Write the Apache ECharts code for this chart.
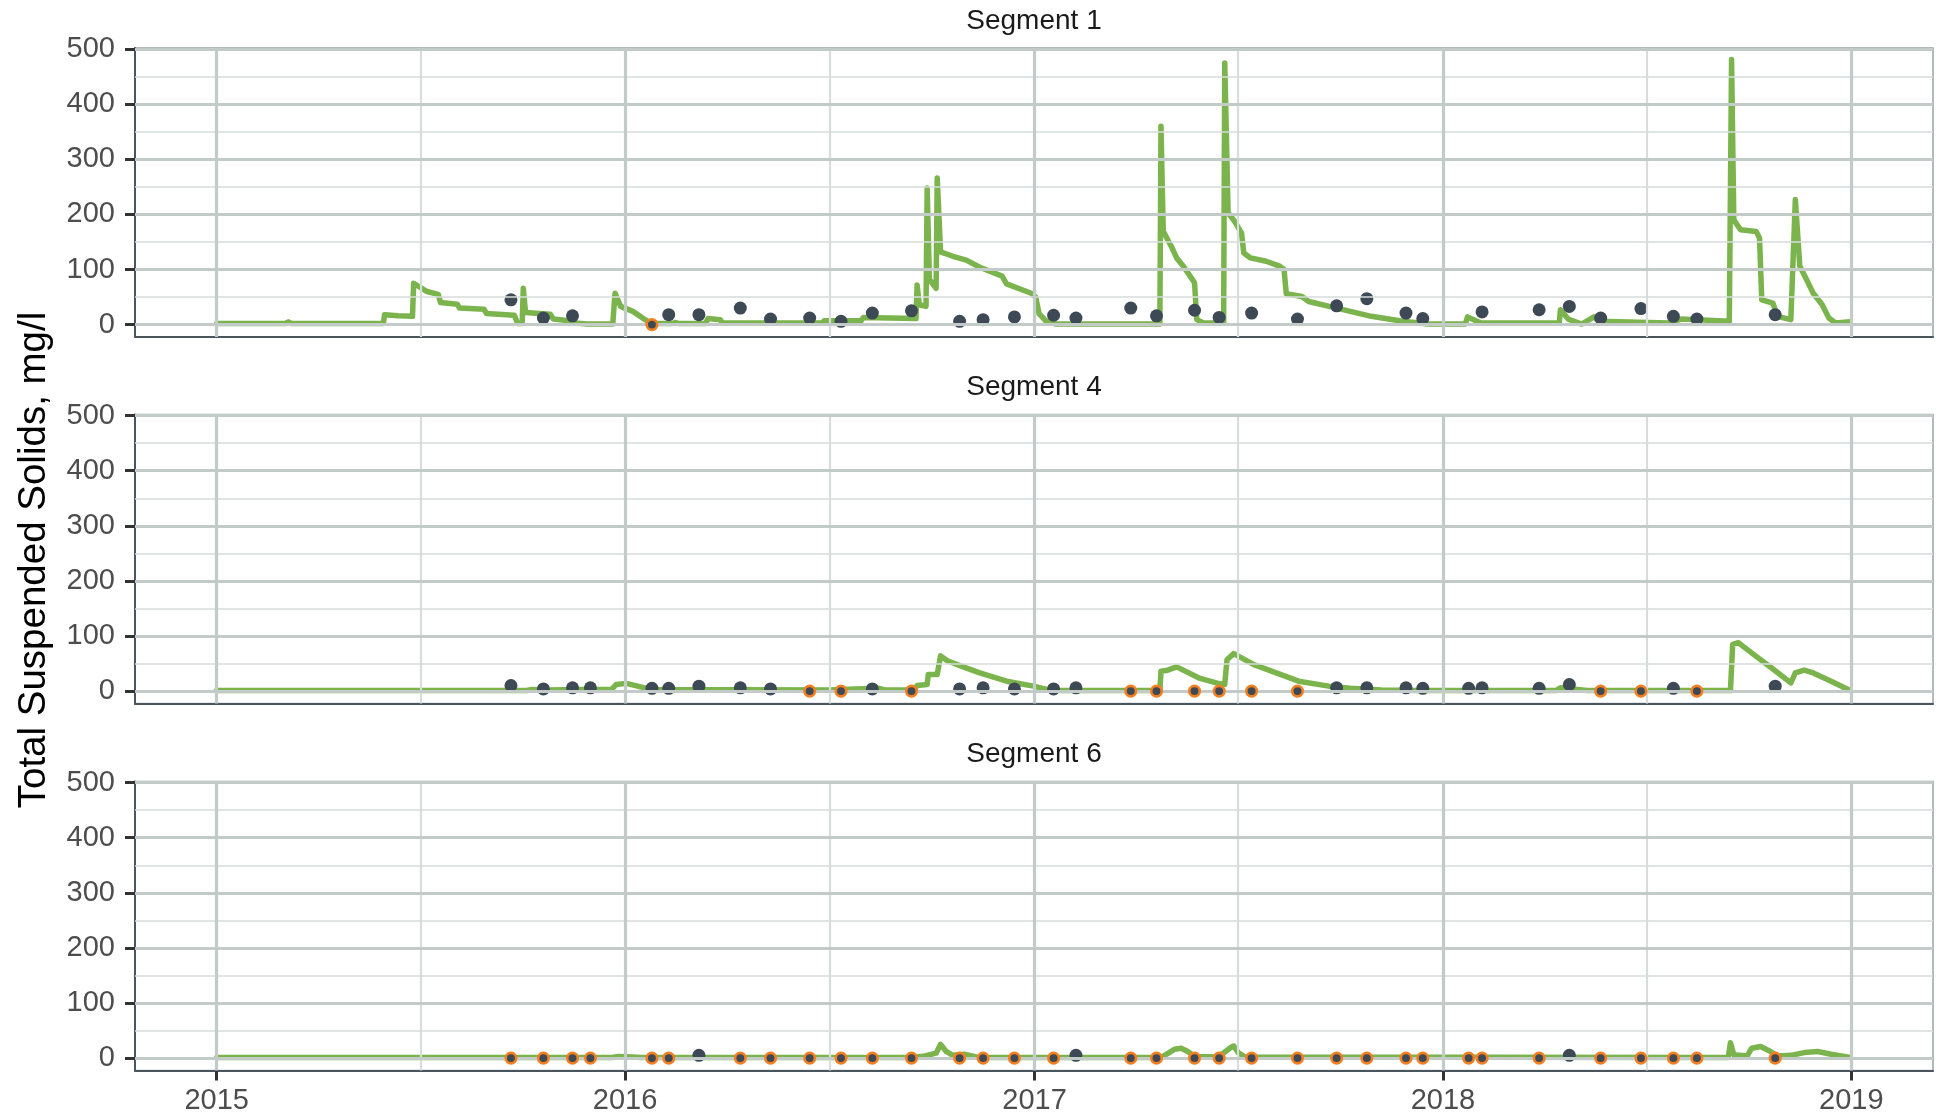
<!DOCTYPE html>
<html>
<head>
<meta charset="utf-8">
<script src="https://cdn.jsdelivr.net/npm/echarts@6/dist/echarts.min.js"></script>
<style>
  html, body { margin: 0; padding: 0; background: #ffffff; }
  #chart { width: 1936px; height: 1117px; }
</style>
</head>
<body>
<div id="chart"></div>
<script>
// ---------------- DATA ----------------
const segmentNames = ['Segment 1', 'Segment 4', 'Segment 6'];
const yTickValues = [0, 100, 200, 300, 400, 500];
const yMinorValues = [50, 150, 250, 350, 450];
const xTickYears = [2015, 2016, 2017, 2018, 2019];
const xMinorDates = ['2015-07-02', '2016-07-02', '2017-07-02', '2018-07-02'];
const yTitle = 'Total Suspended Solids, mg/l';

// Modelled daily TSS (line), [date, mg/l]
const seg1Line = [
  ['2015-01-01', 2], ['2015-03-03', 2], ['2015-03-06', 5], ['2015-03-09', 2],
  ['2015-05-30', 2], ['2015-05-31', 18], ['2015-06-12', 16], ['2015-06-25', 15],
  ['2015-06-26', 75], ['2015-07-08', 60], ['2015-07-18', 55], ['2015-07-20', 40],
  ['2015-08-04', 37], ['2015-08-06', 30], ['2015-08-28', 28], ['2015-08-30', 20],
  ['2015-09-24', 17], ['2015-09-27', 2], ['2015-10-01', 2], ['2015-10-02', 66],
  ['2015-10-04', 22], ['2015-10-26', 19], ['2015-10-29', 10], ['2015-11-08', 8],
  ['2015-11-12', 4], ['2015-11-28', 1], ['2015-12-21', 1], ['2015-12-23', 57],
  ['2015-12-28', 33], ['2016-01-08', 24], ['2016-01-18', 10], ['2016-01-25', 2],
  ['2016-02-12', 2], ['2016-02-15', 4], ['2016-02-18', 2], ['2016-03-13', 2],
  ['2016-03-15', 11], ['2016-03-26', 9], ['2016-03-28', 3], ['2016-06-25', 3],
  ['2016-06-27', 7], ['2016-07-30', 7], ['2016-08-01', 13], ['2016-09-17', 11],
  ['2016-09-18', 72], ['2016-09-20', 36], ['2016-09-26', 33], ['2016-09-27', 248],
  ['2016-09-29', 82], ['2016-10-05', 66], ['2016-10-06', 266], ['2016-10-09', 132],
  ['2016-10-20', 124], ['2016-11-01', 117], ['2016-11-13', 104], ['2016-12-03', 88],
  ['2016-12-07', 74], ['2016-12-29', 57], ['2017-01-02', 50], ['2017-01-05', 20],
  ['2017-01-11', 7], ['2017-01-20', 1], ['2017-04-23', 1], ['2017-04-24', 360],
  ['2017-04-26', 170], ['2017-04-30', 154], ['2017-05-04', 139], ['2017-05-08', 121],
  ['2017-05-14', 106], ['2017-05-20', 88], ['2017-05-24', 76], ['2017-05-26', 9],
  ['2017-06-01', 3], ['2017-06-19', 3], ['2017-06-20', 475], ['2017-06-23', 203],
  ['2017-06-29', 187], ['2017-07-05', 166], ['2017-07-07', 130], ['2017-07-13', 121],
  ['2017-07-27', 115], ['2017-08-08', 106], ['2017-08-12', 100], ['2017-08-14', 56],
  ['2017-08-28', 51], ['2017-09-03', 42], ['2017-09-28', 30], ['2017-10-29', 15],
  ['2017-11-26', 6], ['2017-12-19', 1], ['2018-01-21', 1], ['2018-01-23', 14],
  ['2018-02-04', 3], ['2018-04-15', 3], ['2018-04-16', 27], ['2018-04-23', 10],
  ['2018-05-05', 1], ['2018-05-16', 14], ['2018-05-20', 6], ['2018-07-22', 3],
  ['2018-08-02', 10], ['2018-09-14', 6], ['2018-09-16', 481], ['2018-09-18', 190],
  ['2018-09-24', 172], ['2018-10-08', 169], ['2018-10-11', 157], ['2018-10-13', 45],
  ['2018-10-23', 39], ['2018-10-27', 15], ['2018-11-08', 9], ['2018-11-12', 227],
  ['2018-11-16', 106], ['2018-11-22', 82], ['2018-11-28', 57], ['2018-12-06', 36],
  ['2018-12-12', 12], ['2018-12-18', 3], ['2018-12-31', 5]
];
const seg4Line = [
  ['2015-01-01', 1], ['2015-10-05', 1], ['2015-10-10', 3], ['2015-10-25', 2],
  ['2015-11-20', 3], ['2015-12-20', 3], ['2015-12-24', 12], ['2016-01-02', 14],
  ['2016-01-14', 8], ['2016-01-24', 3], ['2016-07-01', 2], ['2016-07-25', 4],
  ['2016-08-15', 5], ['2016-08-20', 2], ['2016-09-15', 2], ['2016-09-18', 10],
  ['2016-09-27', 12], ['2016-09-28', 30], ['2016-10-06', 30], ['2016-10-09', 64],
  ['2016-10-15', 55], ['2016-10-28', 45], ['2016-11-13', 33], ['2016-12-07', 18],
  ['2016-12-31', 9], ['2017-01-12', 3], ['2017-01-25', 1], ['2017-04-23', 1],
  ['2017-04-24', 36], ['2017-04-30', 38], ['2017-05-08', 44], ['2017-05-29', 23],
  ['2017-06-14', 14], ['2017-06-20', 12], ['2017-06-22', 57], ['2017-06-28', 68],
  ['2017-07-16', 48], ['2017-08-05', 33], ['2017-08-25', 18], ['2017-09-21', 9],
  ['2017-10-10', 5], ['2017-11-07', 2], ['2017-12-10', 1], ['2018-04-12', 1],
  ['2018-04-16', 6], ['2018-05-01', 3], ['2018-05-10', 1], ['2018-09-15', 1],
  ['2018-09-17', 85], ['2018-09-22', 88], ['2018-10-08', 63], ['2018-10-23', 40],
  ['2018-11-06', 18], ['2018-11-08', 15], ['2018-11-12', 33], ['2018-11-20', 38],
  ['2018-11-28', 33], ['2018-12-14', 18], ['2018-12-31', 1]
];
const seg6Line = [
  ['2015-01-01', 1], ['2015-12-20', 1], ['2015-12-26', 3], ['2016-01-08', 2],
  ['2016-01-15', 1], ['2016-09-14', 1], ['2016-09-25', 4], ['2016-10-05', 9],
  ['2016-10-09', 25], ['2016-10-14', 12], ['2016-10-20', 5], ['2016-10-30', 7],
  ['2016-11-10', 2], ['2016-11-20', 1], ['2017-04-24', 1], ['2017-04-28', 6],
  ['2017-05-06', 16], ['2017-05-12', 18], ['2017-05-18', 12], ['2017-05-24', 3],
  ['2017-06-14', 2], ['2017-06-18', 8], ['2017-06-26', 20], ['2017-06-28', 22],
  ['2017-07-02', 10], ['2017-07-08', 2], ['2018-09-13', 1], ['2018-09-15', 28],
  ['2018-09-18', 6], ['2018-09-30', 4], ['2018-10-04', 18], ['2018-10-12', 21],
  ['2018-10-20', 13], ['2018-10-23', 9], ['2018-10-27', 4], ['2018-11-08', 5],
  ['2018-11-20', 10], ['2018-12-02', 12], ['2018-12-14', 7], ['2018-12-31', 1]
];

// Sampling dates (observations)
const sampleDates = [
  '2015-09-21', '2015-10-20', '2015-11-15', '2015-12-01', '2016-01-25', '2016-02-09',
  '2016-03-07', '2016-04-13', '2016-05-10', '2016-06-14', '2016-07-12', '2016-08-09',
  '2016-09-13', '2016-10-26', '2016-11-16', '2016-12-14', '2017-01-18', '2017-02-07',
  '2017-03-28', '2017-04-20', '2017-05-24', '2017-06-15', '2017-07-14', '2017-08-24',
  '2017-09-28', '2017-10-25', '2017-11-29', '2017-12-14', '2018-01-24', '2018-02-05',
  '2018-03-28', '2018-04-24', '2018-05-22', '2018-06-27', '2018-07-26', '2018-08-16',
  '2018-10-25'
];
// Observed values (null = no sample); nondetect flags (1 = below detection, plotted at 0)
const seg1Obs = [45, 12, 16, null, 0, 18, 18, 30, 10, 12, 6, 21, 25, 6, 9, 14, 17, 12,
  30, 16, 26, 13, 21, 10, 34, 47, 21, 11, null, 23, 27, 33, 12, 29, 15, 10, 18];
const seg1ND = [0, 0, 0, 0, 1, 0, 0, 0, 0, 0, 0, 0, 0, 0, 0, 0, 0, 0,
  0, 0, 0, 0, 0, 0, 0, 0, 0, 0, 0, 0, 0, 0, 0, 0, 0, 0, 0];
const seg4Obs = [10, 4, 6, 6, 5, 5, 9, 6, 4, 0, 0, 4, 0, 4, 6, 4, 4, 6,
  0, 0, 0, 0, 0, 0, 6, 6, 6, 5, 5, 6, 5, 12, 0, 0, 5, 0, 9];
const seg4ND = [0, 0, 0, 0, 0, 0, 0, 0, 0, 1, 1, 0, 1, 0, 0, 0, 0, 0,
  1, 1, 1, 1, 1, 1, 0, 0, 0, 0, 0, 0, 0, 0, 1, 1, 0, 1, 0];
const seg6Obs = [0, 0, 0, 0, 0, 0, 5, 0, 0, 0, 0, 0, 0, 0, 0, 0, 0, 5,
  0, 0, 0, 0, 0, 0, 0, 0, 0, 0, 0, 0, 0, 5, 0, 0, 0, 0, 0];
const seg6ND = [1, 1, 1, 1, 1, 1, 0, 1, 1, 1, 1, 1, 1, 1, 1, 1, 1, 0,
  1, 1, 1, 1, 1, 1, 1, 1, 1, 1, 1, 1, 1, 0, 1, 1, 1, 1, 1];

// ---------------- BUILD ----------------
const ts = s => new Date(s + 'T00:00:00').getTime();
const lines = [seg1Line, seg4Line, seg6Line];
const obs = [seg1Obs, seg4Obs, seg6Obs];
const nds = [seg1ND, seg4ND, seg6ND];

const FONT = 'Liberation Sans, Arial, Helvetica, sans-serif';
const GREEN = '#7bb44d';
const DOT = '#3d4955';
const ORANGE = '#f47f20';
const MAJOR = '#c2cbc8';
const MINOR = '#d6dddb';
const AXIS = '#4b555d';

const xTicks = xTickYears.map(y => new Date(y, 0, 1).getTime());
const t0 = xTicks[0], t1 = xTicks[xTicks.length - 1];
const pad = (t1 - t0) * 0.05;

const panelTops = [48, 414.5, 781.5];
const panelH = 289;
const LEFT = 135, RIGHT = 3;

const grids = [], xAxes = [], yAxes = [], series = [], graphics = [];

panelTops.forEach((top, i) => {
  const last = i === panelTops.length - 1;
  grids.push({ left: LEFT, right: RIGHT, top: top, height: panelH, show: true,
    borderColor: '#9aa4a6', borderWidth: 1.5, backgroundColor: '#ffffff' });
  xAxes.push({
    type: 'value', gridIndex: i, min: t0 - pad, max: t1 + pad, scale: true,
    axisLine: { show: true, onZero: false, lineStyle: { color: AXIS, width: 2 } },
    axisTick: { show: last, customValues: xTicks, length: 10, lineStyle: { color: '#333333', width: 3 } },
    axisLabel: { show: last, customValues: xTicks, margin: 16, fontSize: 29, color: '#4d4d4d',
      fontFamily: FONT, formatter: v => String(new Date(v).getFullYear()) },
    splitLine: { show: false }
  });
  yAxes.push({
    type: 'value', gridIndex: i, min: -22.5, max: 502,
    axisLine: { show: true, onZero: false, lineStyle: { color: AXIS, width: 2 } },
    axisTick: { show: true, customValues: yTickValues, length: 10, lineStyle: { color: '#333333', width: 3 } },
    axisLabel: { show: true, customValues: yTickValues, margin: 20, fontSize: 29, color: '#4d4d4d', fontFamily: FONT },
    splitLine: { show: false }
  });

  const ml = [];
  yMinorValues.forEach(v => ml.push({ yAxis: v, lineStyle: { color: MINOR, width: 1.7, type: 'solid' } }));
  xMinorDates.forEach(d => ml.push({ xAxis: ts(d), lineStyle: { color: MINOR, width: 2.2, type: 'solid' } }));
  yTickValues.forEach(v => ml.push({ yAxis: v, lineStyle: { color: MAJOR, width: 2.8, type: 'solid' } }));
  xTicks.forEach(t => ml.push({ xAxis: t, lineStyle: { color: MAJOR, width: 3.2, type: 'solid' } }));
  series.push({
    type: 'line', xAxisIndex: i, yAxisIndex: i, data: [], silent: true, z: 1,
    markLine: { silent: true, symbol: ['none', 'none'], label: { show: false }, animation: false,
      emphasis: { disabled: true }, data: ml }
  });

  series.push({
    type: 'line', xAxisIndex: i, yAxisIndex: i, data: lines[i].map(p => [ts(p[0]), p[1]]),
    showSymbol: false, z: 3,
    lineStyle: { color: GREEN, width: 5.5, join: 'round', cap: 'round' }, animation: false, silent: true
  });

  const det = [], nd = [];
  sampleDates.forEach((d, k) => {
    const v = obs[i][k];
    if (v === null) return;
    if (nds[i][k]) nd.push([ts(d), v]); else det.push([ts(d), v]);
  });
  series.push({
    type: 'scatter', xAxisIndex: i, yAxisIndex: i, data: det, symbolSize: 13, z: 4,
    itemStyle: { color: DOT, opacity: 1 }, animation: false, silent: true
  });
  series.push({
    type: 'scatter', xAxisIndex: i, yAxisIndex: i, data: nd, symbolSize: 10.5, z: 5,
    itemStyle: { color: DOT, borderColor: ORANGE, borderWidth: 2.6, opacity: 1 }, animation: false, silent: true
  });

  graphics.push({
    type: 'text', x: LEFT + (1936 - LEFT - RIGHT) / 2, y: top - 27,
    style: { text: segmentNames[i], fontSize: 28, fontFamily: FONT, fill: '#1a1a1a',
      textAlign: 'center', textVerticalAlign: 'middle' }
  });
});

graphics.push({
  type: 'text', x: 34, y: 560, rotation: Math.PI / 2,
  style: { text: yTitle, fontSize: 38.5, fontFamily: FONT, fill: '#000000',
    textAlign: 'center', textVerticalAlign: 'middle' }
});

const chart = echarts.init(document.getElementById('chart'), null, { renderer: 'canvas' });
chart.setOption({
  animation: false,
  backgroundColor: '#ffffff',
  grid: grids,
  xAxis: xAxes,
  yAxis: yAxes,
  series: series,
  graphic: graphics
});
</script>
</body>
</html>
